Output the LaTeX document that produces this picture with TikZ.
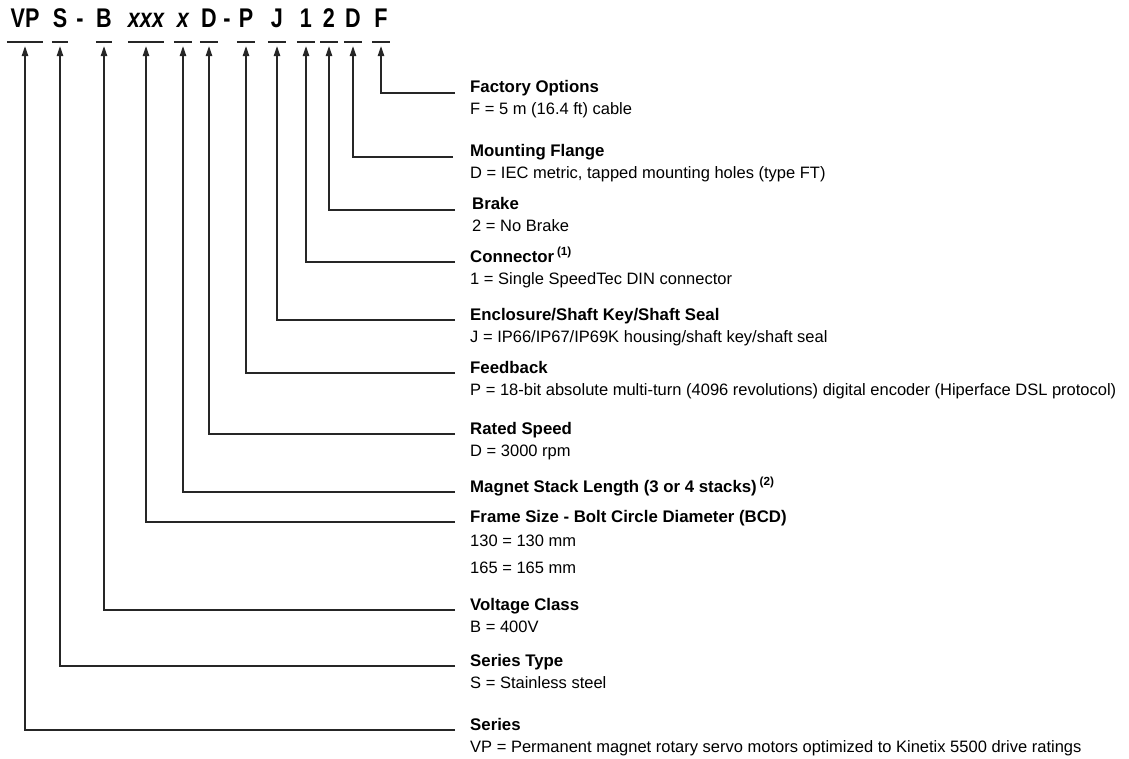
\documentclass[tikz,border=0pt]{standalone}
\usepackage{fontspec}
\setmainfont{Liberation Sans}
\newfontfamily\codefont{Liberation Sans}[FakeStretch=0.8]
\usepackage{tikz}
\usetikzlibrary{arrows.meta,positioning,calc}

\begin{document}
\begin{tikzpicture}[
    x=1pt, y=-1pt,
    >={Triangle[length=10pt,width=6.5pt]},
    code/.style={inner xsep=0pt, inner ysep=0pt,
        text height=20pt, text depth=14pt, anchor=base,
        font=\codefont\fontsize{27}{27}\selectfont\bfseries},
    codeline/.style={line width=1.4pt, color=black!85},
    title/.style={inner sep=0pt, anchor=base west,
        font=\fontsize{16.8}{18}\selectfont\bfseries},
    value/.style={inner sep=0pt, anchor=base west,
        font=\fontsize{16.5}{18}\selectfont},
    callout/.style={->, line width=1.25pt, color=black!85, shorten >=4pt}
]
\useasboundingbox (0,0) rectangle (1129,759);

% model code
\node[code, minimum width=36pt] (cVP) at (25,28) {VP};
\node[code, minimum width=16pt] (cS) at (60,28) {S};
\node[code] (dash1) at (80,28) {-};
\node[code, minimum width=16pt] (cB) at (104,28) {B};
\node[code, minimum width=34pt] (cXXX) at (146,28) {\itshape xxx};
\node[code, minimum width=18pt] (cX) at (183,28) {\itshape x};
\node[code, minimum width=18pt] (cD) at (209,28) {D};
\node[code] (dash2) at (227,28) {-};
\node[code, minimum width=18pt] (cP) at (246,28) {P};
\node[code, minimum width=18pt] (cJ) at (277,28) {J};
\node[code, minimum width=18pt] (cOne) at (306,28) {1};
\node[code, minimum width=17pt] (cTwo) at (329,28) {2};
\node[code, minimum width=18pt] (cFl) at (353,28) {D};
\node[code, minimum width=17pt] (cF) at (381,28) {F};

\foreach \c in {cVP,cS,cB,cXXX,cX,cD,cP,cJ,cOne,cTwo,cFl,cF}
    \draw[codeline] (\c.south west) -- (\c.south east);

% descriptions
\node[title] (tF) at (470,93) {Factory Options};
\node[value] (vF) at ([yshift=-22pt]tF.base west) {F = 5 m (16.4 ft) cable};
\node[title] (tFl) at (470,157) {Mounting Flange};
\node[value] (vFl) at ([yshift=-22pt]tFl.base west) {D = IEC metric, tapped mounting holes (type FT)};
\node[title] (tTwo) at (472,210) {Brake};
\node[value] (vTwo) at ([yshift=-22pt]tTwo.base west) {2 = No Brake};
\node[title] (tOne) at (470,262) {Connector\,\textsuperscript{(1)}};
\node[value] (vOne) at ([yshift=-22pt]tOne.base west) {1 = Single SpeedTec DIN connector};
\node[title] (tJ) at (470,320) {Enclosure/Shaft Key/Shaft Seal};
\node[value] (vJ) at ([yshift=-22pt]tJ.base west) {J = IP66/IP67/IP69K housing/shaft key/shaft seal};
\node[title] (tP) at (470,373) {Feedback};
\node[value] (vP) at ([yshift=-22pt]tP.base west) {P = 18-bit absolute multi-turn (4096 revolutions) digital encoder (Hiperface DSL protocol)};
\node[title] (tD) at (470,434) {Rated Speed};
\node[value] (vD) at ([yshift=-22pt]tD.base west) {D = 3000 rpm};
\node[title] (tX) at (470,492) {Magnet Stack Length (3 or 4 stacks)\,\textsuperscript{(2)}};
\node[title] (tXXX) at (470,522) {Frame Size - Bolt Circle Diameter (BCD)};
\node[value] (vXXXa) at ([yshift=-24pt]tXXX.base west) {130 = 130 mm};
\node[value] (vXXXb) at ([yshift=-27pt]vXXXa.base west) {165 = 165 mm};
\node[title] (tB) at (470,610) {Voltage Class};
\node[value] (vB) at ([yshift=-22pt]tB.base west) {B = 400V};
\node[title] (tS) at (470,666) {Series Type};
\node[value] (vS) at ([yshift=-22pt]tS.base west) {S = Stainless steel};
\node[title] (tVP) at (470,730) {Series};
\node[value] (vVP) at ([yshift=-22pt]tVP.base west) {VP = Permanent magnet rotary servo motors optimized to Kinetix 5500 drive ratings};

% callouts
\draw[callout] ([xshift=-15pt]tF.base west) -| (cF.south);
\draw[callout] ([xshift=-17pt]tFl.base west) -| (cFl.south);
\draw[callout] ([xshift=-17pt]tTwo.base west) -| (cTwo.south);
\draw[callout] ([xshift=-15pt]tOne.base west) -| (cOne.south);
\draw[callout] ([xshift=-15pt]tJ.base west) -| (cJ.south);
\draw[callout] ([xshift=-15pt]tP.base west) -| (cP.south);
\draw[callout] ([xshift=-15pt]tD.base west) -| (cD.south);
\draw[callout] ([xshift=-15pt]tX.base west) -| (cX.south);
\draw[callout] ([xshift=-15pt]tXXX.base west) -| (cXXX.south);
\draw[callout] ([xshift=-15pt]tB.base west) -| (cB.south);
\draw[callout] ([xshift=-15pt]tS.base west) -| (cS.south);
\draw[callout] ([xshift=-15pt]tVP.base west) -| (cVP.south);
\end{tikzpicture}
\end{document}
